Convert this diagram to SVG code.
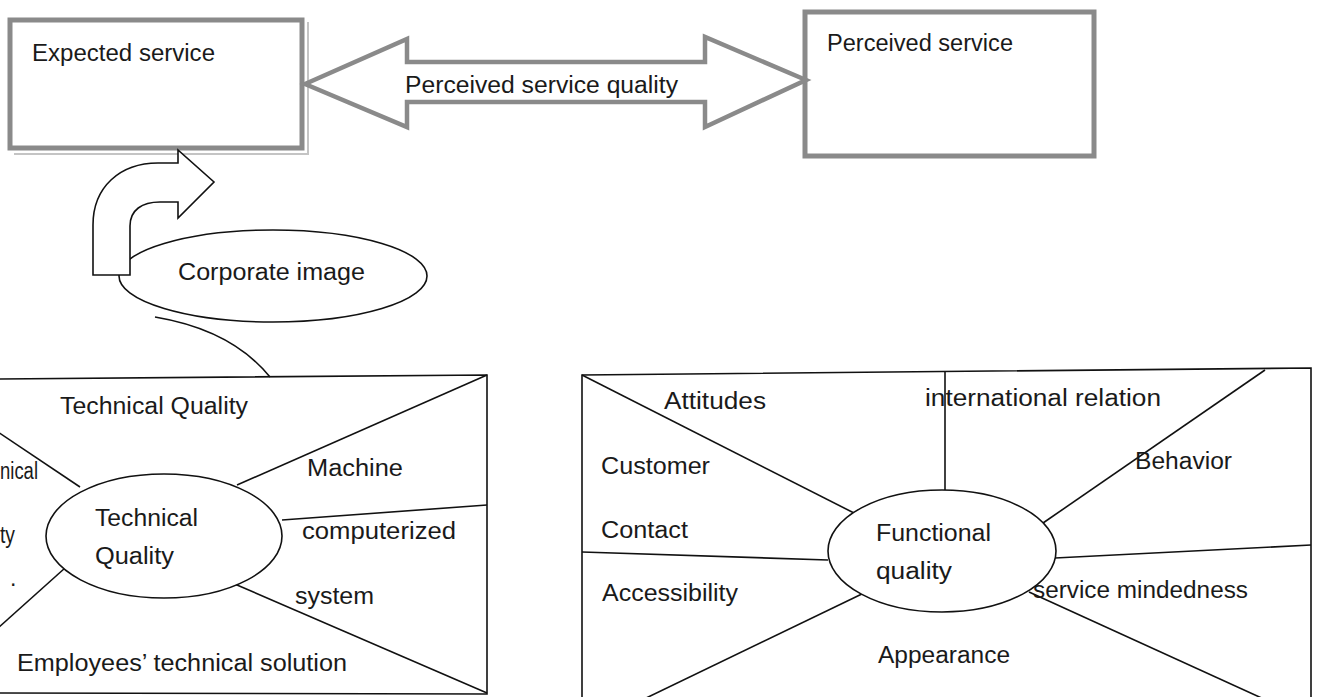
<svg xmlns="http://www.w3.org/2000/svg" width="1319" height="697" viewBox="0 0 1319 697">
<style>
text{font-family:"Liberation Sans",Arial,sans-serif;font-size:23px;fill:#1a1a1a}
.ln{stroke:#111;stroke-width:1.6;fill:none}
.gbox{fill:#fff;stroke:#8a8a8a;stroke-width:5}
.shadow{stroke:#c4c4c4;stroke-width:2;fill:none}
.ell{fill:#fff;stroke:#111;stroke-width:1.6}
</style>
<rect width="1319" height="697" fill="#fff"/>
<g id="expected-service">
<path class="shadow" d="M308 22 V154 H14"/>
<rect class="gbox" x="10" y="20" width="292" height="128"/>
<text x="32" y="61" textLength="183" lengthAdjust="spacingAndGlyphs">Expected service</text>
</g>
<g id="perceived-service">
<rect class="gbox" x="805" y="12" width="289" height="144"/>
<text x="827" y="51" textLength="186" lengthAdjust="spacingAndGlyphs">Perceived service</text>
</g>
<g id="corporate-image">
<ellipse class="ell" cx="273" cy="276" rx="154" ry="46"/>
<text x="178" y="280" textLength="187" lengthAdjust="spacingAndGlyphs">Corporate image</text>
</g>
<g id="connectors">
<path d="M305 84 L407 39 L407 62 L705 62 L705 37 L806 80 L705 127 L705 102 L407 102 L407 127 Z" fill="#fff" stroke="#8a8a8a" stroke-width="4.5" stroke-linejoin="miter"/>
<text x="405" y="93" textLength="273" lengthAdjust="spacingAndGlyphs">Perceived service quality</text>
<path d="M93 275 L93 225 C93 187 120 163 158 163 L178 163 L178 150 L214 182 L178 218 L178 202 L160 202 C142 202 130 210 130 226 L130 275 Z" fill="#fff" stroke="#111" stroke-width="1.6" stroke-linejoin="miter"/>
<path class="ln" d="M155 317 Q232 330 270 377"/>
</g>
<g id="technical-quality-box">
<path class="ln" d="M-5 379 L487 375 L487 694 L-5 693"/>
<line class="ln" x1="487" y1="375" x2="237" y2="485"/>
<line class="ln" x1="487" y1="505" x2="282" y2="520"/>
<line class="ln" x1="487" y1="693" x2="230" y2="582"/>
<line class="ln" x1="-2" y1="432" x2="80" y2="487"/>
<line class="ln" x1="-2" y1="628" x2="65" y2="568"/>
<text x="60" y="414" textLength="188" lengthAdjust="spacingAndGlyphs">Technical Quality</text>
<text x="0" y="479" textLength="38" lengthAdjust="spacingAndGlyphs">nical</text>
<text x="0" y="543" textLength="15" lengthAdjust="spacingAndGlyphs">ty</text>
<text x="10" y="586">.</text>
<text x="307" y="476" textLength="96" lengthAdjust="spacingAndGlyphs">Machine</text>
<text x="302" y="539" textLength="154" lengthAdjust="spacingAndGlyphs">computerized</text>
<text x="295" y="604" textLength="79" lengthAdjust="spacingAndGlyphs">system</text>
<text x="17" y="671" textLength="330" lengthAdjust="spacingAndGlyphs">Employees’ technical solution</text>
</g>
<g id="technical-quality">
<ellipse class="ell" cx="164" cy="536" rx="118" ry="62"/>
<text x="95" y="526" textLength="103" lengthAdjust="spacingAndGlyphs">Technical</text>
<text x="95" y="564" textLength="79" lengthAdjust="spacingAndGlyphs">Quality</text>
</g>
<g id="functional-quality-box">
<path class="ln" d="M582 700 L582 375 L1311 368 L1311 700"/>
<line class="ln" x1="582" y1="375" x2="854" y2="513"/>
<line class="ln" x1="945" y1="372" x2="945" y2="490"/>
<line class="ln" x1="1265" y1="370" x2="1043" y2="523"/>
<line class="ln" x1="582" y1="552" x2="828" y2="560"/>
<line class="ln" x1="1055" y1="558" x2="1311" y2="545"/>
<line class="ln" x1="866" y1="592" x2="642" y2="700"/>
<line class="ln" x1="1029" y1="592" x2="1266" y2="700"/>
<text x="664" y="409" textLength="102" lengthAdjust="spacingAndGlyphs">Attitudes</text>
<text x="925" y="406" textLength="236" lengthAdjust="spacingAndGlyphs">international relation</text>
<text x="601" y="474" textLength="109" lengthAdjust="spacingAndGlyphs">Customer</text>
<text x="1135" y="469" textLength="97" lengthAdjust="spacingAndGlyphs">Behavior</text>
<text x="601" y="538" textLength="87" lengthAdjust="spacingAndGlyphs">Contact</text>
<text x="602" y="601" textLength="136" lengthAdjust="spacingAndGlyphs">Accessibility</text>
<text x="1033" y="598" textLength="215" lengthAdjust="spacingAndGlyphs">service mindedness</text>
<text x="878" y="663" textLength="132" lengthAdjust="spacingAndGlyphs">Appearance</text>
</g>
<g id="functional-quality">
<ellipse class="ell" cx="942" cy="551" rx="114" ry="61" fill="none"/>
<text x="876" y="541" textLength="115" lengthAdjust="spacingAndGlyphs">Functional</text>
<text x="876" y="579" textLength="76" lengthAdjust="spacingAndGlyphs">quality</text>
</g>
</svg>
